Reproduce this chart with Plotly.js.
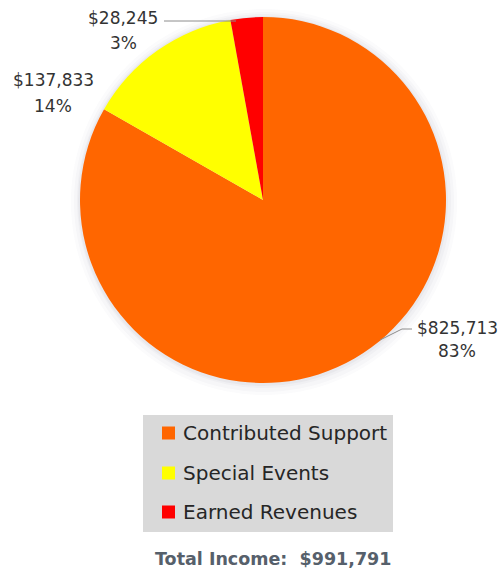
<!DOCTYPE html>
<html>
<head>
<meta charset="utf-8">
<script src="https://cdn.plot.ly/plotly-3.0.1.min.js"></script>
<style>html,body{margin:0;padding:0;background:#fff;}#chart{width:502px;height:573px;}</style>
</head>
<body>
<div id="chart"></div>
<script>
// ---- data ----
const categories = ['Contributed Support', 'Special Events', 'Earned Revenues'];
const values = [825713, 137833, 28245];
const colors = ['#FF6600', '#FFFF00', '#FF0000'];
const totalIncome = 991791;

// ---- layout helpers (pixel -> paper) ----
const W = 502, H = 573;
const px = x => x / W;
const py = y => 1 - y / H;

const fmt = v => '$' + v.toLocaleString('en-US');
const total = values.reduce((a, b) => a + b, 0);
const pct = values.map(v => Math.round(v / total * 100) + '%');

// pie geometry (pixels)
const cx = 263, cy = 200, R = 183;
const dom = (dx, dy, r) => ({x: [px(cx + dx - r), px(cx + dx + r)], y: [py(cy + dy + r), py(cy + dy - r)]});

const traces = [];
// soft glow/shadow layers
[[1, 2, R + 10, 0.02], [1, 2, R + 7, 0.025], [1, 1, R + 4, 0.03], [0, 1, R + 2, 0.04]].forEach(s => {
  traces.push({
    type: 'pie', values: [1], labels: ['shadow'], sort: false,
    marker: {colors: ['rgba(60,60,80,' + s[3] + ')'], line: {width: 0}},
    domain: dom(s[0], s[1], s[2]), textinfo: 'none', hoverinfo: 'skip', showlegend: false
  });
});
traces.push({
  type: 'pie',
  labels: categories,
  values: values,
  sort: false,
  direction: 'clockwise',
  rotation: 0,
  marker: {colors: colors, line: {width: 0}},
  textinfo: 'none',
  hoverinfo: 'label+value+percent',
  showlegend: false,
  domain: dom(0, 0, R)
});

// label positions (pixels): [x, yValueLine, yPctLine]
const labelPos = [[457, 328, 351], [53, 80, 106], [123, 18, 43]];
const annotations = [];
const labelFont = {family: 'DejaVu Sans', size: 17, color: '#333333'};
values.forEach((v, i) => {
  const p = labelPos[i];
  annotations.push({xref: 'paper', yref: 'paper', x: px(p[0]), y: py(p[1]), text: fmt(v), showarrow: false, xanchor: 'center', yanchor: 'middle', font: labelFont});
  annotations.push({xref: 'paper', yref: 'paper', x: px(p[0]), y: py(p[2]), text: pct[i], showarrow: false, xanchor: 'center', yanchor: 'middle', font: labelFont});
});

const shapes = [];
const lineCol = '#8C8C8C';
// leader lines
shapes.push({type: 'line', xref: 'paper', yref: 'paper', x0: px(164), y0: py(21), x1: px(236), y1: py(21), line: {color: lineCol, width: 1}});
shapes.push({type: 'line', xref: 'paper', yref: 'paper', x0: px(380), y0: py(340), x1: px(402), y1: py(329), line: {color: lineCol, width: 1}});
shapes.push({type: 'line', xref: 'paper', yref: 'paper', x0: px(402), y0: py(329), x1: px(412), y1: py(329), line: {color: lineCol, width: 1}});

// legend box
shapes.push({type: 'rect', xref: 'paper', yref: 'paper', x0: px(143), x1: px(393), y0: py(532), y1: py(415), fillcolor: '#D9D9D9', line: {width: 0}, layer: 'below'});
const rowY = [433, 473, 512];
categories.forEach((c, i) => {
  shapes.push({type: 'rect', xref: 'paper', yref: 'paper', x0: px(162), x1: px(175), y0: py(rowY[i] + 6.5), y1: py(rowY[i] - 6.5), fillcolor: colors[i], line: {width: 0}});
  annotations.push({xref: 'paper', yref: 'paper', x: px(181), y: py(rowY[i]), text: c, showarrow: false, xanchor: 'left', yanchor: 'middle', font: {family: 'DejaVu Sans', size: 20, color: '#262626'}});
});

// total
annotations.push({xref: 'paper', yref: 'paper', x: px(273), y: py(559), text: '<b>Total Income:\u00A0 ' + fmt(totalIncome) + '</b>', showarrow: false, xanchor: 'center', yanchor: 'middle', font: {family: 'DejaVu Sans', size: 17.5, color: '#56606B'}});

const layout = {
  width: W, height: H,
  margin: {l: 0, r: 0, t: 0, b: 0},
  paper_bgcolor: '#FFFFFF',
  showlegend: false,
  annotations: annotations,
  shapes: shapes
};

Plotly.newPlot('chart', traces, layout, {displayModeBar: false, staticPlot: true});
</script>
</body>
</html>
